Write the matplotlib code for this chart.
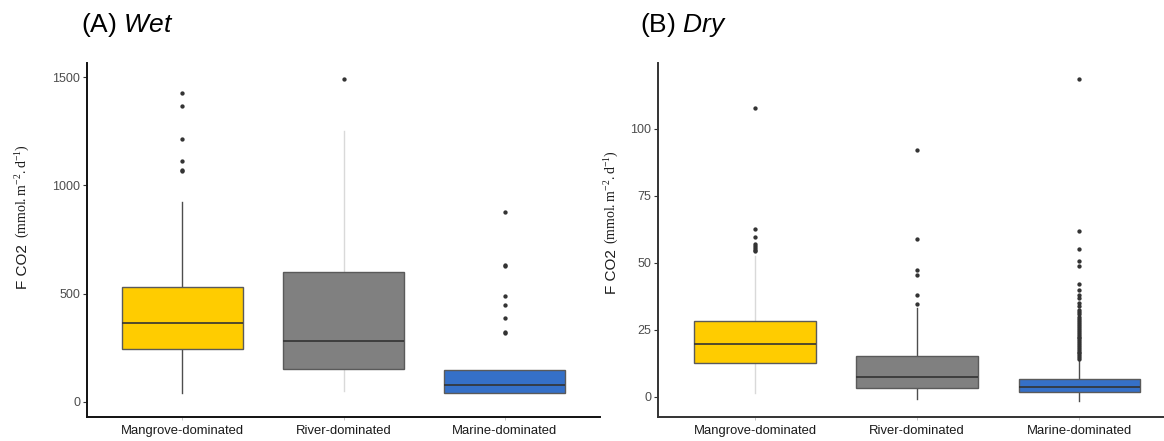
import matplotlib
matplotlib.use("Agg")
import matplotlib.pyplot as plt

plt.rcParams['font.family'] = ['Liberation Sans', 'DejaVu Sans']
plt.rcParams['mathtext.fontset'] = 'custom'
plt.rcParams['mathtext.rm'] = 'Liberation Serif'
plt.rcParams['mathtext.it'] = 'Liberation Sans:italic'

categories = ["Mangrove-dominated", "River-dominated", "Marine-dominated"]
box_colors = ["#ffcc00", "#808080", "#3570c8"]

# Wet season: quartiles, whiskers and outliers (mmol m-2 d-1)
wet_q1 = [243, 154, 42]
wet_med = [362, 279, 76]
wet_q3 = [529, 599, 146]
wet_whislo = [43, 51, 42]
wet_whishi = [923, 1251, 146]
wet_fliers = [
    [1428, 1368, 1215, 1111, 1072, 1065],
    [1489],
    [877, 634, 628, 491, 445, 386, 323, 318],
]
wet_whisker_colors = ["#4d4d4d", "#d9d9d9", "#4d4d4d"]

# Dry season
dry_q1 = [12.6, 3.2, 1.75]
dry_med = [19.8, 7.3, 3.6]
dry_q3 = [28.4, 15.3, 6.7]
dry_whislo = [1.4, -0.9, -1.5]
dry_whishi = [52.4, 33.0, 14.1]
dry_fliers = [
    [107.7, 62.6, 59.6, 57.0, 56.3, 55.6, 54.8, 54.3],
    [92.2, 59.1, 47.4, 45.4, 37.9, 34.6],
    [118.5, 61.9, 55.2, 50.7, 48.9, 42.2, 40.0, 38.0, 37.0, 35.0,
     33.8, 32.5, 31.6, 30.8, 30.0, 29.2, 28.4, 27.6, 26.8, 26.0,
     25.3, 24.6, 23.9, 23.2, 22.5, 21.8, 21.1, 20.4, 19.7, 19.0,
     18.3, 17.6, 16.9, 16.2, 15.5, 14.8, 14.3],
]
dry_whisker_colors = ["#d9d9d9", "#4d4d4d", "#4d4d4d"]

W, H = 1164, 441
fig = plt.figure(figsize=(W / 100, H / 100), dpi=100)


def px_axes(left, right, top, bottom):
    return fig.add_axes([left / W, (H - bottom) / H, (right - left) / W, (bottom - top) / H])


def draw_panel(ax, q1, med, q3, wlo, whi, fliers, wcolors, ylim, yticks, xlim,
               spine_color):
    stats = []
    for i, name in enumerate(categories):
        stats.append(dict(label=name, q1=q1[i], med=med[i], q3=q3[i],
                          whislo=wlo[i], whishi=whi[i], fliers=fliers[i]))
    parts = ax.bxp(stats, positions=[1, 2, 3], widths=0.75, patch_artist=True,
                   showcaps=False,
                   boxprops=dict(edgecolor="#5a5a5a", linewidth=1.0),
                   medianprops=dict(color="#333333", linewidth=1.2),
                   flierprops=dict(marker="o", markersize=2.1,
                                   markerfacecolor="#333333",
                                   markeredgecolor="#333333", linestyle="none"))
    for patch, c in zip(parts["boxes"], box_colors):
        patch.set_facecolor(c)
    for j, wl in enumerate(parts["whiskers"]):
        wl.set_color(wcolors[j // 2])
        wl.set_linewidth(1.0)
        wl.set_zorder(0.5)
    ax.set_xlim(*xlim)
    ax.set_ylim(*ylim)
    ax.set_yticks(yticks)
    ax.set_xticks([1, 2, 3])
    ax.set_xticklabels(categories, fontsize=9.4, color="#1a1a1a")
    ax.tick_params(axis="y", labelsize=9, labelcolor="#4d4d4d", length=3,
                   width=0.8, color="#333333", pad=2)
    ax.tick_params(axis="x", length=2, width=0.6, color="#bbbbbb", pad=4)
    for s in ["top", "right"]:
        ax.spines[s].set_visible(False)
    for s in ["left", "bottom"]:
        ax.spines[s].set_color(spine_color)
        ax.spines[s].set_linewidth(1.4)


ax1 = px_axes(87, 600, 63, 417)
draw_panel(ax1, wet_q1, wet_med, wet_q3, wet_whislo, wet_whishi, wet_fliers,
           wet_whisker_colors, (-70, 1565), [0, 500, 1000, 1500], (0.41, 3.59),
           "#111111")

ax2 = px_axes(658, 1170, 63, 417)
draw_panel(ax2, dry_q1, dry_med, dry_q3, dry_whislo, dry_whishi, dry_fliers,
           dry_whisker_colors, (-7.5, 124.6), [0, 25, 50, 75, 100], (0.40, 3.56),
           "#333333")

# Y-axis titles: sans "F CO2" followed by serif units
units = r"$\mathrm{(mmol.m^{-2}.d^{-1})}$"
for x, y_name, y_units in [(23, 266.5, 191), (612, 271.5, 197)]:
    fig.text(x / W, 1 - y_name / H, "F CO2", rotation=90, ha="center",
             va="center", fontsize=11, color="#1a1a1a")
    fig.text(x / W, 1 - y_units / H, units, rotation=90, ha="center",
             va="center", fontsize=10, color="#1a1a1a")

fig.text(81 / W, 1 - 25 / H, r"(A) $\mathit{Wet}$", ha="left", va="center",
         fontsize=19)
fig.text(640 / W, 1 - 25 / H, r"(B) $\mathit{Dry}$", ha="left", va="center",
         fontsize=19)

fig.savefig("out.png", dpi=100)
